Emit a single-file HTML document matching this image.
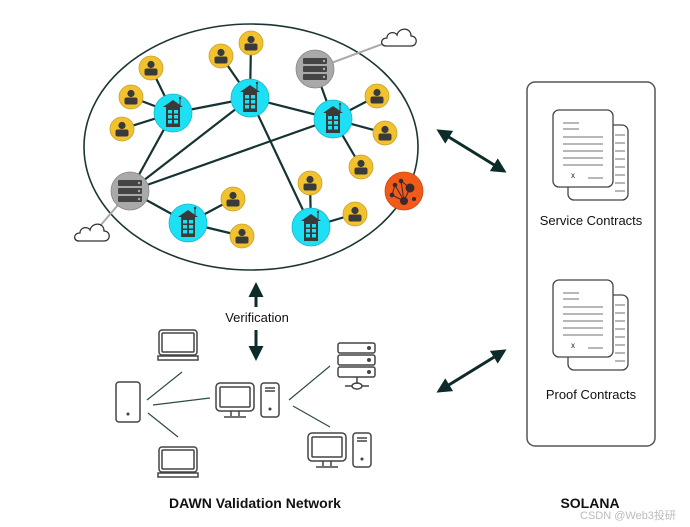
<!DOCTYPE html>
<html><head><meta charset="utf-8"><style>
html,body{margin:0;padding:0;background:#fff;}
svg{display:block;}
text{font-family:"Liberation Sans","Noto Sans CJK SC",sans-serif;}
</style></head><body>
<svg width="690" height="527" viewBox="0 0 690 527" xmlns="http://www.w3.org/2000/svg">
<defs>
<marker id="ah" viewBox="0 0 10 10" refX="8" refY="5" markerWidth="5" markerHeight="5" orient="auto-start-reverse"><path d="M0,0L10,5L0,10z" fill="#0d2b2b"/></marker>
<g id="person"><circle r="12" fill="#f2c12e" stroke="#c9a02a" stroke-width="0.8"/><circle cy="-3.5" r="3.6" fill="#3a3a3a"/><rect x="-6.5" y="0.5" width="13" height="7" rx="2" fill="#3a3a3a"/></g>
<g id="bld"><circle r="19" fill="#1ee0f5" stroke="#18b8c8" stroke-width="0.8"/><path d="M-10,-6L0,-13L10,-6z" fill="#3a3a3a"/><rect x="-7" y="-6" width="14" height="20" fill="#3a3a3a"/><line x1="7" y1="-8" x2="7" y2="-15" stroke="#3a3a3a"/><circle cx="7" cy="-15" r="1.2" fill="#3a3a3a"/>
<g fill="#1ee0f5"><rect x="-5" y="-3" width="4" height="3.5"/><rect x="1" y="-3" width="4" height="3.5"/><rect x="-5" y="2" width="4" height="3.5"/><rect x="1" y="2" width="4" height="3.5"/><rect x="-5" y="7" width="4" height="3.5"/><rect x="1" y="7" width="4" height="3.5"/></g></g>
<g id="srv"><circle r="19" fill="#a9a9a9" stroke="#888" stroke-width="0.8"/><g fill="#444"><rect x="-12" y="-11" width="24" height="6" rx="1"/><rect x="-12" y="-3" width="24" height="6" rx="1"/><rect x="-12" y="5" width="24" height="6" rx="1"/></g><g fill="#aaa"><circle cx="9" cy="-8" r="1.2"/><circle cx="9" cy="0" r="1.2"/><circle cx="9" cy="8" r="1.2"/></g></g>
<path id="cloud" d="M-14,6 C-20,6 -20,-2 -13,-2 C-13,-8 -5,-9 -3,-5 C-1,-13 11,-13 11,-4 C18,-4 18,6 11,6 Z" fill="#fff" stroke="#333" stroke-width="1.3"/>
<g id="laptop" fill="none" stroke="#444" stroke-width="1.5"><rect x="-19" y="-15" width="38" height="25" rx="3"/><rect x="-16" y="-12" width="32" height="19" rx="1"/><rect x="-20" y="11" width="40" height="4"/></g>
<g id="mon" fill="none" stroke="#444" stroke-width="1.5"><rect x="-19" y="-17" width="38" height="28" rx="4"/><rect x="-15" y="-13" width="30" height="20" rx="1"/><path d="M-4,11V16M4,11V16M-11,17H11"/></g>
<g id="tower" fill="none" stroke="#444" stroke-width="1.5"><rect x="-9" y="-17" width="18" height="34" rx="3"/><path d="M-5,-12H5M-5,-9H5"/><circle cy="9" r="0.8" fill="#444"/></g>
<g id="doc"><rect x="15" y="15" width="60" height="75" rx="6" fill="#fff" stroke="#444" stroke-width="1.3"/><path d="M62,25H72M62,33H72M62,41H72M62,49H72M62,57H72M62,65H72M62,73H72M62,81H72" stroke="#444" stroke-width="0.8"/><rect x="0" y="0" width="60" height="77" rx="6" fill="#fff" stroke="#444" stroke-width="1.3"/><path d="M10,13H26M10,19H26M10,27H50M10,34H50M10,41H50M10,48H50M10,55H50M35,68H50" stroke="#444" stroke-width="0.8"/><text x="18" y="68" font-size="8" fill="#222">x</text></g>
</defs>

<ellipse cx="251" cy="147" rx="167" ry="123" fill="#fff" stroke="#1d3535" stroke-width="1.6"/>
<g stroke="#aaa" stroke-width="2"><line x1="315" y1="69" x2="388" y2="42"/><line x1="130" y1="191" x2="100" y2="226"/></g>
<g stroke="#163333" stroke-width="2.2">
<line x1="173" y1="113" x2="250" y2="98"/><line x1="250" y1="98" x2="333" y2="119"/>
<line x1="250" y1="98" x2="311" y2="227"/><line x1="250" y1="98" x2="130" y2="191"/>
<line x1="173" y1="113" x2="130" y2="191"/><line x1="333" y1="119" x2="130" y2="191"/>
<line x1="130" y1="191" x2="188" y2="223"/><line x1="315" y1="69" x2="333" y2="119"/>
<line x1="173" y1="113" x2="151" y2="68"/><line x1="173" y1="113" x2="131" y2="97"/><line x1="173" y1="113" x2="122" y2="129"/>
<line x1="250" y1="98" x2="221" y2="56"/><line x1="250" y1="98" x2="251" y2="43"/>
<line x1="333" y1="119" x2="377" y2="96"/><line x1="333" y1="119" x2="385" y2="133"/><line x1="333" y1="119" x2="361" y2="167"/>
<line x1="311" y1="227" x2="310" y2="183"/><line x1="311" y1="227" x2="355" y2="214"/>
<line x1="188" y1="223" x2="233" y2="199"/><line x1="188" y1="223" x2="242" y2="236"/>
</g>
<use href="#cloud" x="400" y="40"/><use href="#cloud" x="93" y="235"/>
<use href="#person" x="151" y="68"/><use href="#person" x="131" y="97"/><use href="#person" x="122" y="129"/>
<use href="#person" x="221" y="56"/><use href="#person" x="251" y="43"/><use href="#person" x="377" y="96"/>
<use href="#person" x="385" y="133"/><use href="#person" x="361" y="167"/><use href="#person" x="310" y="183"/>
<use href="#person" x="355" y="214"/><use href="#person" x="233" y="199"/><use href="#person" x="242" y="236"/>
<use href="#bld" x="173" y="113"/><use href="#bld" x="250" y="98"/><use href="#bld" x="333" y="119"/>
<use href="#bld" x="188" y="223"/><use href="#bld" x="311" y="227"/>
<use href="#srv" x="315" y="69"/><use href="#srv" x="130" y="191"/>
<g transform="translate(404,191)"><circle r="19" fill="#f25a1a" stroke="#c84a10" stroke-width="0.8"/>
<g stroke="#3a2a2a" stroke-width="1" fill="#3a2a2a"><line x1="0" y1="10" x2="-9" y2="-6"/><line x1="0" y1="10" x2="-3" y2="-10"/><line x1="0" y1="10" x2="6" y2="-3"/><line x1="0" y1="10" x2="-12" y2="4"/><line x1="6" y1="-3" x2="-3" y2="-10"/><line x1="-9" y1="-6" x2="-12" y2="4"/><circle cy="10" r="3.5"/><circle cx="6" cy="-3" r="4"/><circle cx="-9" cy="-6" r="1.8"/><circle cx="-3" cy="-10" r="1.8"/><circle cx="-12" cy="4" r="1.8"/><circle cx="10" cy="8" r="1.5"/></g></g>

<line x1="256" y1="285" x2="256" y2="307" stroke="#0d2b2b" stroke-width="3" marker-start="url(#ah)"/>
<line x1="256" y1="330" x2="256" y2="358" stroke="#0d2b2b" stroke-width="3" marker-end="url(#ah)"/>
<text x="257" y="322" font-size="13" text-anchor="middle" fill="#111">Verification</text>

<g stroke="#2d4a4a" stroke-width="1.2">
<line x1="147" y1="400" x2="182" y2="372"/><line x1="153" y1="405" x2="210" y2="398"/><line x1="148" y1="413" x2="178" y2="437"/>
<line x1="289" y1="400" x2="330" y2="366"/><line x1="293" y1="406" x2="330" y2="427"/>
</g>
<use href="#laptop" x="178" y="345"/><use href="#laptop" x="178" y="462"/>
<g fill="none" stroke="#444" stroke-width="1.5"><rect x="116" y="382" width="24" height="40" rx="3"/><circle cx="128" cy="414" r="0.8" fill="#444"/></g>
<use href="#mon" x="235" y="400"/><use href="#tower" x="270" y="400"/>
<use href="#mon" x="327" y="450"/><use href="#tower" x="362" y="450"/>
<g transform="translate(357,365)"><g fill="none" stroke="#444" stroke-width="1.5"><rect x="-19" y="-22" width="37" height="10" rx="2"/><rect x="-19" y="-10" width="37" height="10" rx="2"/><rect x="-19" y="2" width="37" height="10" rx="2"/><path d="M0,12V19M-12,21H-5M5,21H12"/><ellipse cx="0" cy="21" rx="5" ry="3"/></g><g fill="#444"><circle cx="12" cy="-17" r="2"/><circle cx="12" cy="-5" r="2"/><circle cx="12" cy="7" r="2"/></g></g>

<rect x="527" y="82" width="128" height="364" rx="8" fill="none" stroke="#555" stroke-width="1.5"/>
<use href="#doc" x="553" y="110"/><use href="#doc" x="553" y="280"/>
<text x="591" y="225" font-size="13" text-anchor="middle" fill="#111">Service Contracts</text>
<text x="591" y="399" font-size="13" text-anchor="middle" fill="#111">Proof Contracts</text>

<line x1="439" y1="131" x2="504" y2="171" stroke="#0d2b2b" stroke-width="3" marker-start="url(#ah)" marker-end="url(#ah)"/>
<line x1="504" y1="351" x2="439" y2="391" stroke="#0d2b2b" stroke-width="3" marker-start="url(#ah)" marker-end="url(#ah)"/>

<text x="255" y="508" font-size="14" font-weight="bold" text-anchor="middle" fill="#111">DAWN Validation Network</text>
<text x="590" y="508" font-size="14" font-weight="bold" text-anchor="middle" fill="#111">SOLANA</text>
<text x="580" y="519" font-size="11" fill="#bbb">CSDN @Web3投研</text>
</svg>
</body></html>
